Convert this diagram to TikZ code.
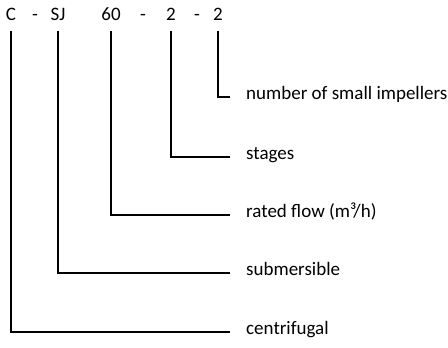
\documentclass[tikz,border=0pt]{standalone}
\usepackage{fontspec}
\setmainfont{Carlito}
\begin{document}
\begin{tikzpicture}
[x=1pt,y=-1pt,
 code/.style={anchor=base,inner xsep=0pt,inner ysep=11pt,text depth=0pt,font=\fontsize{19}{23}\selectfont},
 meaning/.style={anchor=mid west,inner xsep=16pt,inner ysep=0pt,font=\fontsize{19}{23}\selectfont},
 leader/.style={line width=1.8pt}]
\useasboundingbox (0,0) rectangle (448,348);
\node (C) at (11,20) [code] {C};
\node (d1) at (35,20) [code] {-};
\node (SJ) at (58,20) [code] {SJ};
\node (Q) at (111,20) [code] {60};
\node (d2) at (143,20) [code] {-};
\node (N) at (171,20) [code] {2};
\node (d3) at (197,20) [code] {-};
\node (S) at (218,20) [code] {2};
\node (small) at (230,97) [meaning] {number of small impellers};
\node (stages) at (230,157) [meaning] {stages};
\node (flow) at (230,215) [meaning] {rated flow (m³/h)};
\node (sub) at (230,273) [meaning] {submersible};
\node (cent) at (230,332) [meaning] {centrifugal};
\draw[leader] (S.south) |- (small.mid west);
\draw[leader] (N.south) |- (stages.mid west);
\draw[leader] (Q.south) |- (flow.mid west);
\draw[leader] (SJ.south) |- (sub.mid west);
\draw[leader] (C.south) |- (cent.mid west);

\end{tikzpicture}
\end{document}
